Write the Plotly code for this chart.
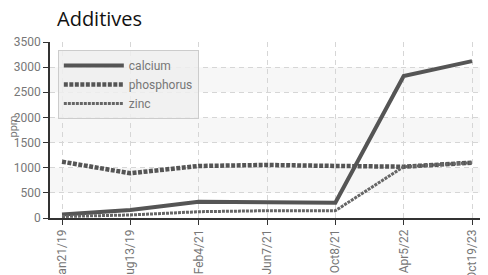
import plotly.graph_objects as go

categories = ["Jan21/19", "Aug13/19", "Feb4/21", "Jun7/21", "Oct8/21", "Apr5/22", "Oct19/23"]
calcium = [70, 160, 325, 305, 305, 2825, 3120]
phosphorus = [1120, 890, 1035, 1055, 1035, 1020, 1100]
zinc = [30, 60, 125, 145, 145, 1020, 1100]
y_ticks = [0, 500, 1000, 1500, 2000, 2500, 3000, 3500]

FONT = "Roboto, Liberation Sans, sans-serif"

fig = go.Figure()
fig.add_trace(go.Scatter(x=categories, y=calcium, name="calcium", mode="lines",
                         line=dict(color="#555555", width=4)))
fig.add_trace(go.Scatter(x=categories, y=phosphorus, name="phosphorus", mode="lines",
                         line=dict(color="#555555", width=4.5, dash="4px,1.5px")))
fig.add_trace(go.Scatter(x=categories, y=zinc, name="zinc", mode="lines",
                         line=dict(color="#666666", width=3, dash="3px,1px")))

shapes = []
for lo in (500, 1500, 2500):
    shapes.append(dict(type="rect", xref="paper", yref="y", x0=0, x1=1, y0=lo, y1=lo + 500,
                       fillcolor="#f7f7f7", line=dict(width=0), layer="below"))

# page body has an 8px margin; the figure is sized so it ends at the window edge
W, H = 480, 267
L, R, T, B = 42, 3, 34, 57
fig.update_layout(
    width=W, height=H,
    margin=dict(l=L, r=R, t=T, b=B),
    paper_bgcolor="white", plot_bgcolor="white",
    title=dict(text="Additives", x=49 / W, xanchor="left", y=1 - 11 / H, yanchor="middle",
               font=dict(family="Open Sans, DejaVu Sans, sans-serif", size=20, color="#111")),
    shapes=shapes,
    annotations=[dict(text="ppm", textangle=-90, xref="paper", yref="paper",
                      x=(5 - L) / (W - L - R), y=0.52, xanchor="center", yanchor="middle",
                      showarrow=False, font=dict(family=FONT, size=11, color="#777"))],
    showlegend=True,
    legend=dict(x=0.018, y=0.955, xanchor="left", yanchor="top",
                bgcolor="rgba(238,238,238,0.85)", bordercolor="#cccccc", borderwidth=1,
                font=dict(family=FONT, size=12, color="#777"),
                itemwidth=60, tracegroupgap=0),
    xaxis=dict(type="category", range=[-0.176, 6.19], tickangle=-90,
               showline=True, linecolor="#333", linewidth=1.5,
               ticks="outside", ticklen=5, tickcolor="#333",
               showgrid=True, gridcolor="#d6d6d6", griddash="5px,4px", gridwidth=1,
               tickfont=dict(family=FONT, size=12, color="#777"),
               automargin=False, zeroline=False),
    yaxis=dict(range=[0, 3500], tickvals=y_ticks,
               showline=True, linecolor="#333", linewidth=1.5,
               ticks="outside", ticklen=5, tickcolor="#333",
               showgrid=True, gridcolor="#d6d6d6", griddash="5px,4px", gridwidth=1,
               tickfont=dict(family=FONT, size=12, color="#777"),
               automargin=False, zeroline=False),
)

fig.write_html("out.html")
